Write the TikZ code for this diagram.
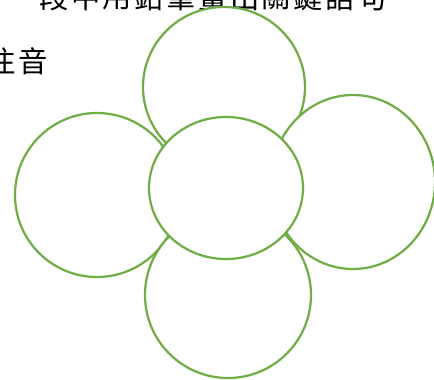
\documentclass[tikz,border=0pt]{standalone}
\usepackage{fontspec}
\newfontfamily\cjk{Noto Sans CJK TC}
\usepackage{xcolor}
\definecolor{leafgreen}{HTML}{70AD47}

\begin{document}
\begin{tikzpicture}[x=0.03cm,y=-0.03cm,
  petal/.style={draw=leafgreen,line width=1.9pt,fill=white},
  glyph/.style={font=\cjk\fontsize{25}{30}\selectfont,inner sep=0pt,anchor=center}
]
\useasboundingbox (0,0) rectangle (434,380);
\clip (0,0) rectangle (434,380);
% text lines, cut at the page edge
\foreach \c [count=\i from 0] in {段,中,用,鉛,筆,畫,出,關,鍵,語,句}
  \node[glyph] (top\i) at (54+31.8*\i,-3) {\c};
\node[glyph] (zhu) at (1,61) {注};
\node[glyph] (yin) at (33,61) {音};
% outer petals, then the middle one on top
\draw[petal] (224,87) circle[x radius=81,y radius=80];
\draw[petal] (97,195) circle[x radius=82,y radius=82];
\draw[petal] (353,182) circle[x radius=82,y radius=87];
\draw[petal] (228,295) circle[x radius=83,y radius=83];
\draw[petal] (226,188) circle[x radius=77,y radius=71];
\end{tikzpicture}
\end{document}
